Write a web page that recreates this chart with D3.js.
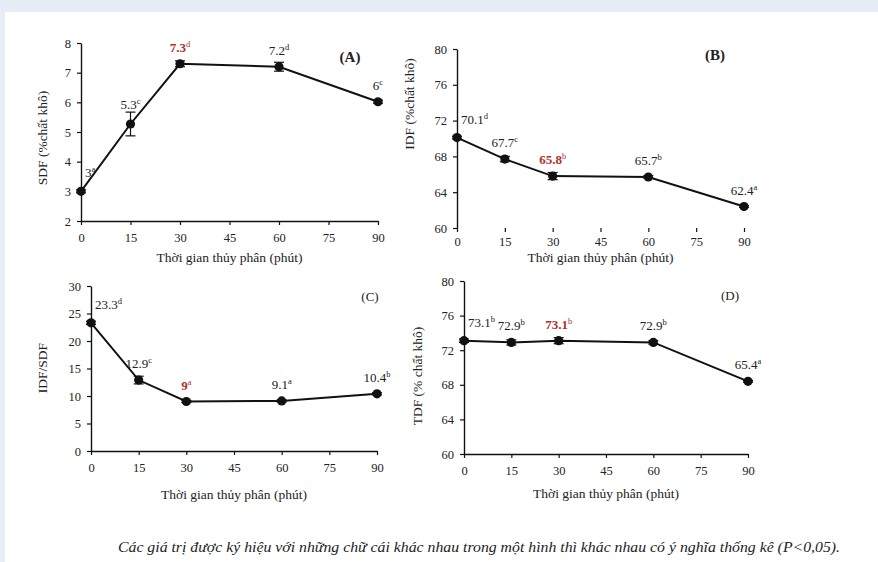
<!DOCTYPE html>
<html>
<head>
<meta charset="utf-8">
<script src="https://cdn.jsdelivr.net/npm/d3@7"></script>
<style>
  body { margin: 0; background: #ffffff; }
  svg text { font-family: "Liberation Serif", "Times New Roman", "Liberation Sans", Arial, sans-serif; }
</style>
</head>
<body>
<div id="chart"></div>
<script>
// time points (phút)
const times = [0, 15, 30, 60, 90];
const xTicks = [0, 15, 30, 45, 60, 75, 90];

// (A) SDF
const sdfValues = [3, 5.27, 7.3, 7.2, 6.02];
const sdfErrors = [0.05, 0.4, 0.1, 0.15, 0.05];
const sdfLabels = ["3", "5.3", "7.3", "7.2", "6"];
const sdfLetters = ["a", "c", "d", "d", "c"];
const sdfTicks = [2, 3, 4, 5, 6, 7, 8];

// (B) IDF
const idfValues = [70.1, 67.7, 65.8, 65.7, 62.4];
const idfErrors = [0.15, 0.3, 0.4, 0.15, 0.1];
const idfLabels = ["70.1", "67.7", "65.8", "65.7", "62.4"];
const idfLetters = ["d", "c", "b", "b", "a"];
const idfTicks = [60, 64, 68, 72, 76, 80];

// (C) IDF/SDF
const ratioValues = [23.3, 12.9, 9, 9.1, 10.4];
const ratioErrors = [0.3, 0.7, 0.2, 0.2, 0.2];
const ratioLabels = ["23.3", "12.9", "9", "9.1", "10.4"];
const ratioLetters = ["d", "c", "a", "a", "b"];
const ratioTicks = [0, 5, 10, 15, 20, 25, 30];

// (D) TDF
const tdfValues = [73.1, 72.9, 73.1, 72.9, 68.4];
const tdfErrors = [0.2, 0.3, 0.35, 0.2, 0.1];
const tdfLabels = ["73.1", "72.9", "73.1", "72.9", "65.4"];
const tdfLetters = ["b", "b", "b", "b", "a"];
const tdfTicks = [60, 64, 68, 72, 76, 80];

const highlightIndex = 2;
const xTitle = "Thời gian thủy phân (phút)";
const caption = "Các giá trị được ký hiệu với những chữ cái khác nhau trong một hình thì khác nhau có ý nghĩa thống kê (P<0,05).";

const W = 878, H = 562;
const font = '"Liberation Serif", "Times New Roman", "Liberation Sans", Arial, sans-serif';

const svg = d3.select("#chart").append("svg")
    .attr("width", W)
    .attr("height", H);

// light frame at top and left
svg.append("rect").attr("width", W).attr("height", H).attr("fill", "#e8ecf7");
svg.append("rect").attr("x", 5).attr("y", 12).attr("width", W - 5).attr("height", H - 12).attr("fill", "#ffffff");

// panel layout
const panels = [
    { values: sdfValues, errors: sdfErrors, labels: sdfLabels, letters: sdfLetters, ticks: sdfTicks,
      x0: 81, x1: 378, yTop: 43, yBot: 221, tag: "(A)", tagX: 350, tagY: 62, tagSize: 15,
      yTitle: "SDF (%chất khô)", yTitleX: 47, yTitleY: 138, xTitleY: 262, xLine: true, pad: 8 },
    { values: idfValues, errors: idfErrors, labels: idfLabels, letters: idfLetters, ticks: idfTicks,
      x0: 457, x1: 744, yTop: 49, yBot: 228, tag: "(B)", tagX: 715, tagY: 60, tagSize: 15,
      yTitle: "IDF (%chất khô)", yTitleX: 414, yTitleY: 104, xTitleY: 262, xLine: false, pad: 5 },
    { values: ratioValues, errors: ratioErrors, labels: ratioLabels, letters: ratioLetters, ticks: ratioTicks,
      x0: 91, x1: 377, yTop: 286, yBot: 451, tag: "(C)", tagX: 370, tagY: 301, tagSize: 13,
      yTitle: "IDF/SDF", yTitleX: 47, yTitleY: 368, xTitleY: 499, xLine: true, pad: 8 },
    { values: tdfValues, errors: tdfErrors, labels: tdfLabels, letters: tdfLetters, ticks: tdfTicks,
      x0: 464, x1: 748, yTop: 281, yBot: 454, tag: "(D)", tagX: 730, tagY: 300, tagSize: 13,
      yTitle: "TDF (% chất khô)", yTitleX: 422, yTitleY: 376, xTitleY: 498, xLine: true, pad: 8 }
];

panels.forEach(p => {
    const g = svg.append("g");

    const xScale = d3.scaleLinear().domain([0, 90]).range([p.x0, p.x1]);
    const yScale = d3.scaleLinear()
        .domain([d3.min(p.ticks), d3.max(p.ticks)])
        .range([p.yBot, p.yTop]);

    // y axis
    const yAxisG = g.append("g")
        .attr("transform", `translate(${p.x0},0)`)
        .call(d3.axisLeft(yScale).tickValues(p.ticks).tickFormat(d3.format("d"))
            .tickSize(4).tickSizeOuter(0).tickPadding(6));
    yAxisG.select(".domain").attr("stroke", "#111").attr("stroke-width", 1.4);
    yAxisG.selectAll(".tick line").attr("stroke", "#111").attr("stroke-width", 1.2);
    yAxisG.selectAll(".tick text")
        .style("font-family", font).style("font-size", "12.5px").style("fill", "#222");

    // x axis
    const xAxisG = g.append("g")
        .attr("transform", `translate(0,${p.yBot})`)
        .call(d3.axisBottom(xScale).tickValues(xTicks).tickFormat(d3.format("d"))
            .tickSize(4).tickSizeOuter(0).tickPadding(p.pad));
    if (p.xLine) {
        xAxisG.select(".domain").attr("stroke", "#111").attr("stroke-width", 1.4);
    } else {
        xAxisG.select(".domain").remove();
    }
    xAxisG.selectAll(".tick line").attr("stroke", "#111").attr("stroke-width", 1.2);
    xAxisG.selectAll(".tick text")
        .style("font-family", font).style("font-size", "12.5px").style("fill", "#222");

    const pts = times.map((t, i) => ({ t: t, v: p.values[i], e: p.errors[i], i: i }));

    // line
    const line = d3.line().x(d => xScale(d.t)).y(d => yScale(d.v));
    g.append("path")
        .datum(pts)
        .attr("d", line)
        .attr("fill", "none")
        .attr("stroke", "#111")
        .attr("stroke-width", 2);

    // error bars
    pts.forEach(d => {
        const cx = xScale(d.t);
        g.append("line")
            .attr("x1", cx).attr("x2", cx)
            .attr("y1", yScale(d.v - d.e)).attr("y2", yScale(d.v + d.e))
            .attr("stroke", "#111").attr("stroke-width", 1.2);
        [d.v - d.e, d.v + d.e].forEach(yv => {
            g.append("line")
                .attr("x1", cx - 5).attr("x2", cx + 5)
                .attr("y1", yScale(yv)).attr("y2", yScale(yv))
                .attr("stroke", "#111").attr("stroke-width", 1.2);
        });
    });

    // markers
    g.selectAll(".dot")
        .data(pts)
        .enter()
        .append("circle")
        .attr("cx", d => xScale(d.t))
        .attr("cy", d => yScale(d.v))
        .attr("r", 4.6)
        .attr("fill", "#111");

    // value labels with superscript letters
    pts.forEach(d => {
        const hl = d.i === highlightIndex;
        const topY = yScale(d.v + d.e);
        const base = d.i === 0 ? yScale(d.v) - 14 : Math.min(yScale(d.v) - 12, topY - 3);
        const t = g.append("text")
            .attr("x", d.i === 0 ? xScale(d.t) + 4 : xScale(d.t))
            .attr("y", base)
            .attr("text-anchor", d.i === 0 ? "start" : "middle")
            .style("font-size", "13px")
            .style("font-weight", hl ? "bold" : "normal")
            .style("fill", hl ? "#b0302c" : "#222");
        t.append("tspan").text(p.labels[d.i]);
        t.append("tspan")
            .attr("dy", -5)
            .style("font-size", "8.5px")
            .style("font-weight", "normal")
            .text(p.letters[d.i]);
    });

    // panel tag
    g.append("text")
        .attr("x", p.tagX)
        .attr("y", p.tagY)
        .attr("text-anchor", "middle")
        .style("font-size", p.tagSize + "px")
        .style("font-weight", p.tagSize > 14 ? "bold" : "normal")
        .style("fill", "#222")
        .text(p.tag);

    // axis titles
    g.append("text")
        .attr("x", (p.x0 + p.x1) / 2)
        .attr("y", p.xTitleY)
        .attr("text-anchor", "middle")
        .style("font-size", "13.5px")
        .style("fill", "#222")
        .text(xTitle);

    g.append("text")
        .attr("transform", `translate(${p.yTitleX},${p.yTitleY}) rotate(-90)`)
        .attr("text-anchor", "middle")
        .style("font-size", "13.5px")
        .style("fill", "#222")
        .text(p.yTitle);
});

// caption
svg.append("text")
    .attr("x", 118)
    .attr("y", 552)
    .attr("textLength", 722)
    .attr("lengthAdjust", "spacingAndGlyphs")
    .style("font-size", "14px")
    .style("font-style", "italic")
    .style("fill", "#222")
    .text(caption);
</script>
</body>
</html>
